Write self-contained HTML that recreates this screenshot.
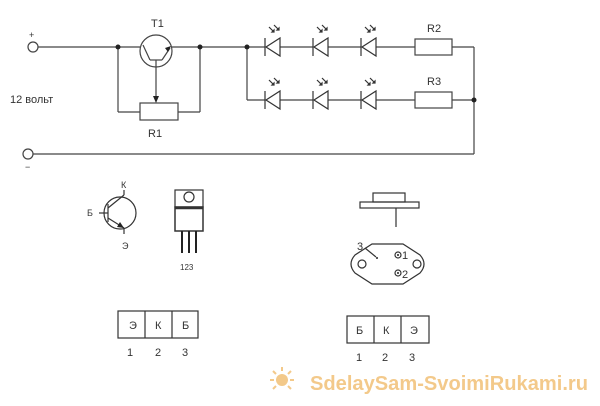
<!DOCTYPE html>
<html><head><meta charset="utf-8"><style>
html,body{margin:0;padding:0;background:#fff;}
svg{display:block;font-family:"Liberation Sans","DejaVu Sans",sans-serif;}
</style></head><body>
<svg width="600" height="406" viewBox="0 0 600 406" xmlns="http://www.w3.org/2000/svg">
<defs>
<g id="led" stroke="#333" stroke-width="1.2" fill="none">
<path d="M15,-9 L15,9 L1,0 Z"/><line x1="0" y1="-9" x2="0" y2="9"/>
<line x1="4" y1="-20" x2="9" y2="-15"/><line x1="9" y1="-22" x2="14" y2="-17"/>
<path d="M9,-17 l0,2 l-2,0z" fill="#333"/><path d="M14,-19 l0,2 l-2,0z" fill="#333"/>
</g>
</defs>
<g stroke="#444" stroke-width="1.2" fill="none">
<circle cx="33" cy="47" r="5" fill="#fff"/>
<line x1="38" y1="47" x2="140" y2="47"/>
<line x1="172" y1="47" x2="265" y2="47"/>
<line x1="280" y1="47" x2="313" y2="47"/>
<line x1="328" y1="47" x2="361" y2="47"/>
<line x1="376" y1="47" x2="415" y2="47"/>
<line x1="452" y1="47" x2="474" y2="47"/>
<line x1="474" y1="47" x2="474" y2="154"/>
<line x1="247" y1="47" x2="247" y2="100"/>
<line x1="247" y1="100" x2="265" y2="100"/>
<line x1="280" y1="100" x2="313" y2="100"/>
<line x1="328" y1="100" x2="361" y2="100"/>
<line x1="376" y1="100" x2="415" y2="100"/>
<line x1="452" y1="100" x2="474" y2="100"/>
<rect x="415" y="39" width="37" height="16"/>
<rect x="415" y="92" width="37" height="16"/>
<circle cx="28" cy="154" r="5" fill="#fff"/>
<line x1="33" y1="154" x2="474" y2="154"/>
<circle cx="156" cy="51" r="16"/>
<line x1="143" y1="45" x2="150" y2="60"/>
<line x1="150" y1="60" x2="162" y2="60"/>
<line x1="162" y1="60" x2="170" y2="48"/>
<line x1="156" y1="60" x2="156" y2="100"/>
<line x1="118" y1="47" x2="118" y2="112"/>
<line x1="118" y1="112" x2="140" y2="112"/>
<line x1="178" y1="112" x2="200" y2="112"/>
<line x1="200" y1="112" x2="200" y2="47"/>
<rect x="140" y="103" width="38" height="17"/>
</g>
<path d="M156,103 l-3,-7 l6,0z" fill="#222"/>
<path d="M171,46 l-6,2 l3,4z" fill="#222"/>
<g fill="#222"><circle cx="118" cy="47" r="2.5"/><circle cx="200" cy="47" r="2.5"/><circle cx="247" cy="47" r="2.5"/><circle cx="474" cy="100" r="2.5"/></g>
<use href="#led" x="265" y="47"/><use href="#led" x="313" y="47"/><use href="#led" x="361" y="47"/>
<use href="#led" x="265" y="100"/><use href="#led" x="313" y="100"/><use href="#led" x="361" y="100"/>
<g fill="#333" font-size="11">
<text x="29" y="38" font-size="9">+</text>
<text x="25" y="170" font-size="9">−</text>
<text x="151" y="27">T1</text>
<text x="148" y="137">R1</text>
<text x="427" y="32">R2</text>
<text x="427" y="85">R3</text>
<text x="10" y="103">12 вольт</text>
</g>
<!-- transistor symbol -->
<g stroke="#333" stroke-width="1.2" fill="none">
<circle cx="120" cy="213" r="16"/>
<line x1="108" y1="204" x2="108" y2="222"/>
<line x1="99" y1="213" x2="108" y2="213"/>
<line x1="108" y1="208" x2="124" y2="195"/>
<line x1="124" y1="195" x2="124" y2="190"/>
<line x1="108" y1="218" x2="124" y2="228"/>
<line x1="124" y1="228" x2="124" y2="234"/>
</g>
<path d="M124,228 l-7,-1 l3,-5z" fill="#222"/>
<g fill="#333" font-size="9"><text x="121" y="188">К</text><text x="87" y="216">Б</text><text x="122" y="249">Э</text></g>
<!-- TO-220 -->
<g stroke="#333" stroke-width="1.2" fill="none">
<rect x="175" y="190" width="28" height="17"/>
<circle cx="189" cy="197" r="5"/>
<rect x="175" y="207" width="28" height="24" stroke-width="1.5"/>
<line x1="175" y1="208" x2="203" y2="208" stroke-width="2.5"/>
</g>
<g stroke="#222" stroke-width="2"><line x1="182" y1="231" x2="182" y2="253"/><line x1="189" y1="231" x2="189" y2="253"/><line x1="196" y1="231" x2="196" y2="253"/></g>
<text x="180" y="270" font-size="8" fill="#333">123</text>
<!-- TO-3 -->
<g stroke="#333" stroke-width="1.2" fill="none">
<rect x="373" y="193" width="32" height="9"/>
<rect x="360" y="202" width="59" height="6"/>
<line x1="396" y1="208" x2="396" y2="227"/>
<path d="M372,244 L403,244 L420,255 Q428,264 420,273 L403,284 L372,284 L355,273 Q347,264 355,255 Z"/>
<circle cx="362" cy="264" r="4"/><circle cx="417" cy="264" r="4"/>
<circle cx="398" cy="255" r="3"/><circle cx="398" cy="273" r="3"/>
<line x1="365" y1="248" x2="376" y2="257"/>
</g>
<g fill="#222"><circle cx="398" cy="255" r="1"/><circle cx="398" cy="273" r="1"/><circle cx="377" cy="258" r="1"/></g>
<g fill="#333" font-size="11"><text x="357" y="250">3</text><text x="402" y="259">1</text><text x="402" y="278">2</text></g>
<!-- tables -->
<g stroke="#333" stroke-width="1.2" fill="none">
<rect x="118" y="311" width="80" height="27"/>
<line x1="145" y1="311" x2="145" y2="338"/><line x1="172" y1="311" x2="172" y2="338"/>
<rect x="347" y="316" width="82" height="27"/>
<line x1="374" y1="316" x2="374" y2="343"/><line x1="401" y1="316" x2="401" y2="343"/>
</g>
<g fill="#333" font-size="11">
<text x="129" y="329">Э</text><text x="155" y="329">К</text><text x="182" y="329">Б</text>
<text x="127" y="356">1</text><text x="155" y="356">2</text><text x="182" y="356">3</text>
<text x="356" y="334">Б</text><text x="383" y="334">К</text><text x="410" y="334">Э</text>
<text x="356" y="361">1</text><text x="382" y="361">2</text><text x="409" y="361">3</text>
</g>
<!-- watermark -->
<g fill="#f3c98a" stroke="#f3c98a">
<circle cx="282" cy="380" r="6" stroke="none"/>
<g stroke-width="2"><line x1="282" y1="367" x2="282" y2="371"/><line x1="270" y1="380" x2="274" y2="380"/><line x1="290" y1="380" x2="294" y2="380"/><line x1="273" y1="371" x2="276" y2="374"/><line x1="291" y1="371" x2="288" y2="374"/><line x1="273" y1="389" x2="276" y2="386"/><line x1="291" y1="389" x2="288" y2="386"/></g>
</g>
<text x="310" y="390" font-size="20" font-weight="bold" fill="#f3c98a" textLength="278" lengthAdjust="spacingAndGlyphs">SdelaySam-SvoimiRukami.ru</text>
</svg>
</body></html>
